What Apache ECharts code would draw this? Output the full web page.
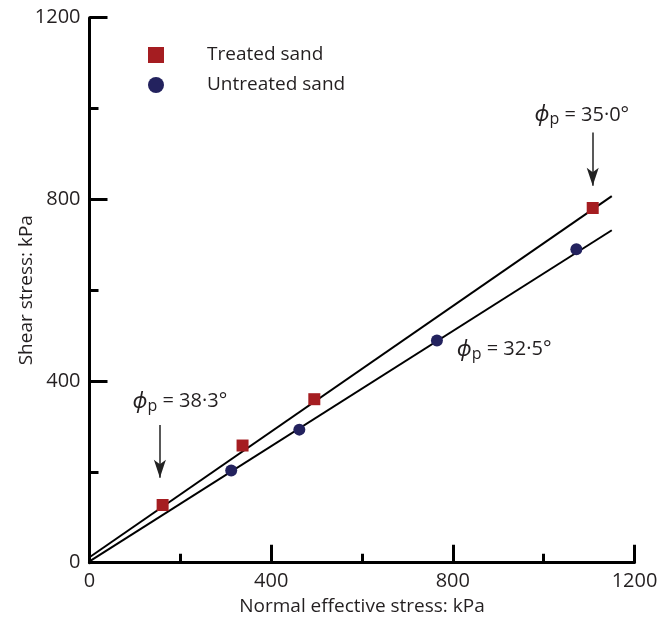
<!DOCTYPE html>
<html>
<head>
<meta charset="utf-8">
<script src="https://cdn.jsdelivr.net/npm/echarts@6/dist/echarts.min.js"></script>
<style>html,body{margin:0;padding:0;background:#fff}#c{width:671px;height:621px}</style>
</head>
<body>
<div id="c"></div>
<script>
// Data
var treatedSand = [[161,127],[337,258],[495,360],[1108,781]];
var untreatedSand = [[312,203],[462,293],[765,489],[1072,690]];
var treatedLine = [[0,12],[1150,807]];
var untreatedLine = [[0,3],[1150,732]];
var xTicks = [0,400,800,1200];
var yTicks = [0,400,800,1200];
// annotation anchors (data coords)
var annoTexts = [
  {angle:'35·0°', at:[1084,986]},
  {angle:'32·5°', at:[913,469]},
  {angle:'38·3°', at:[199,355]}
];
var arrows = [
  [[1108,947],[1108,830]],
  [[155,303],[155,187]]
];

var FONT = '"Open Sans", "Noto Sans", sans-serif';
var TXT = '#231f20';
var RED = '#a51d21';
var BLUE = '#23225e';

var chart = echarts.init(document.getElementById('c'), null, {renderer:'canvas'});
var option = {
  animation:false,
  backgroundColor:'#fff',
  textStyle:{fontFamily:FONT},
  grid:{left:89.5, right:36.5, top:17.7, bottom:58.3, containLabel:false, outerBoundsMode:'none'},
  legend:{
    orient:'vertical', left:143, top:40, itemWidth:16, itemHeight:16, itemGap:10,
    data:[{name:'Treated sand', icon:'rect'},{name:'Untreated sand', icon:'circle'}],
    textStyle:{fontFamily:FONT, fontSize:19, color:TXT, lineHeight:20, padding:[0,0,0,38]}
  },
  xAxis:{
    type:'value', min:xTicks[0], max:xTicks[xTicks.length-1], interval:400,
    name:'Normal effective stress: kPa', nameLocation:'middle', nameGap:34, nameMoveOverlap:false,
    nameTextStyle:{fontFamily:FONT, fontSize:19, color:TXT},
    axisLine:{show:true, onZero:false, lineStyle:{color:'#000', width:3}},
    axisTick:{show:true, inside:true, length:18, lineStyle:{color:'#000', width:3}},
    minorTick:{show:true, splitNumber:2, length:9, lineStyle:{color:'#000', width:3}},
    axisLabel:{fontFamily:FONT, fontSize:20, color:TXT, margin:9, formatter:function(v){return String(v);}},
    splitLine:{show:false}
  },
  yAxis:{
    type:'value', min:yTicks[0], max:yTicks[yTicks.length-1], interval:400,
    name:'Shear stress: kPa', nameLocation:'middle', nameGap:53, nameRotate:90, nameMoveOverlap:false,
    nameTextStyle:{fontFamily:FONT, fontSize:19, color:TXT},
    axisLine:{show:true, onZero:false, lineStyle:{color:'#000', width:3}},
    axisTick:{show:true, inside:true, length:18, lineStyle:{color:'#000', width:3}},
    minorTick:{show:true, splitNumber:2, length:9, lineStyle:{color:'#000', width:3}},
    axisLabel:{fontFamily:FONT, fontSize:20, color:TXT, margin:9, formatter:function(v){return String(v);}},
    splitLine:{show:false}
  },
  series:[
    {type:'line', name:'treatedFit', data:treatedLine, symbol:'none', lineStyle:{color:'#000', width:2}, z:2, silent:true,
     markLine:{silent:true, symbol:['none','arrow'], symbolSize:[9,18], label:{show:false},
       lineStyle:{color:'#222', width:1.5, type:'solid'},
       data: arrows.map(function(a){return [{coord:a[0]},{coord:a[1]}];})},
     markPoint:{silent:true, symbol:'circle', symbolSize:0,
       data: annoTexts.map(function(t){return {coord:t.at, value:t.angle};}),
       label:{show:true, position:'inside', color:TXT,
         formatter:function(p){return '{phi|ϕ}{sub|p}{n| = '+p.value+'}';},
         rich:{
           phi:{fontFamily:FONT, fontSize:22, fontStyle:'italic', color:TXT},
           sub:{fontFamily:FONT, fontSize:16, color:TXT, padding:[10,0,0,0]},
           n:{fontFamily:FONT, fontSize:20, color:TXT}
         }}}
    },
    {type:'line', name:'untreatedFit', data:untreatedLine, symbol:'none', lineStyle:{color:'#000', width:2}, z:2, silent:true},
    {type:'scatter', name:'Treated sand', data:treatedSand, symbol:'rect', symbolSize:12, itemStyle:{color:RED, opacity:1}, z:5},
    {type:'scatter', name:'Untreated sand', data:untreatedSand, symbol:'circle', symbolSize:12, itemStyle:{color:BLUE, opacity:1}, z:5}
  ]
};
chart.setOption(option);
</script>
</body>
</html>
